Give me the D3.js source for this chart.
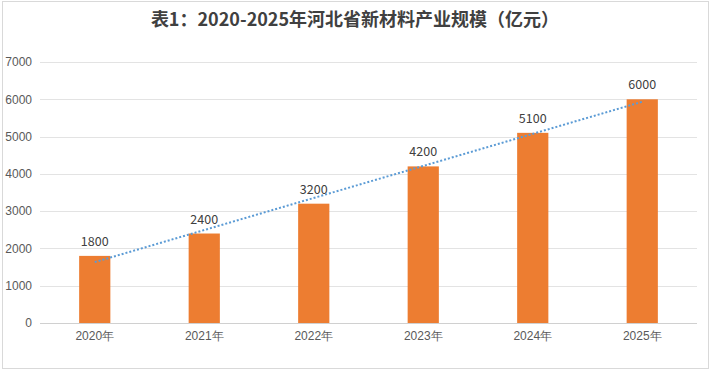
<!DOCTYPE html>
<html>
<head>
<meta charset="utf-8">
<script src="https://cdn.jsdelivr.net/npm/d3@7"></script>
<style>
  body { margin: 0; background: #fff; }
  svg { font-family: "Noto Sans CJK SC", "Open Sans", sans-serif; }
  .axis text { fill: #595959; font-size: 12px; }
  .axis path, .axis line { stroke: none; }
</style>
</head>
<body>
<div id="chart"></div>
<script>
// datos del grafico
const years = ["2020年", "2021年", "2022年", "2023年", "2024年", "2025年"]
const values = [1800, 2400, 3200, 4200, 5100, 6000]
const yTicks = [0, 1000, 2000, 3000, 4000, 5000, 6000, 7000]
const titulo = "表1：2020-2025年河北省新材料产业规模（亿元）"

const anchoTotal = 710
const altoTotal = 372
const margins = { top: 62, right: 13, bottom: 49, left: 40 }
const ancho = anchoTotal - margins.left - margins.right
const alto = altoTotal - margins.top - margins.bottom

const svg = d3.select("#chart")
  .append("svg")
  .attr("width", anchoTotal)
  .attr("height", altoTotal)

// marco del grafico
svg.append("rect")
  .attr("x", 2.5).attr("y", 1.5)
  .attr("width", 706).attr("height", 367)
  .attr("fill", "white")
  .attr("stroke", "#d9d9d9")

svg.append("text")
  .attr("x", 355)
  .attr("y", 26)
  .attr("text-anchor", "middle")
  .attr("font-size", 18)
  .attr("font-weight", "bold")
  .attr("fill", "#404040")
  .text(titulo)

const g = svg.append("g")
  .attr("transform", `translate(${margins.left}, ${margins.top})`)

const y = d3.scaleLinear().domain([0, 7000]).range([alto, 0])
const x = d3.scaleBand()
  .domain(years)
  .range([0, ancho])
  .paddingInner(0.715)
  .paddingOuter(0.3575)

// lineas de cuadricula
g.selectAll(".grid")
  .data(yTicks)
  .enter()
  .append("line")
  .attr("x1", 0)
  .attr("x2", ancho)
  .attr("y1", (d) => Math.round(y(d)) + 0.5)
  .attr("y2", (d) => Math.round(y(d)) + 0.5)
  .attr("stroke", (d) => (d === 0 ? "#d0d0d0" : "#e3e3e3"))

const yAxis = d3.axisLeft(y).tickValues(yTicks).tickFormat(d3.format("d")).tickSize(0).tickPadding(8)
g.append("g").classed("axis", true).call(yAxis)

const xAxis = d3.axisBottom(x).tickSize(0).tickPadding(8)
g.append("g")
  .attr("transform", `translate(0, ${alto})`)
  .classed("axis", true)
  .call(xAxis)

g.selectAll(".bar")
  .data(values)
  .enter()
  .append("rect")
  .attr("x", (d, i) => x(years[i]))
  .attr("y", (d) => y(d))
  .attr("width", x.bandwidth())
  .attr("height", (d) => alto - y(d))
  .attr("fill", "#ed7d31")

g.selectAll(".et")
  .data(values)
  .enter()
  .append("text")
  .attr("x", (d, i) => x(years[i]) + x.bandwidth() / 2)
  .attr("y", (d) => y(d) - 10)
  .attr("text-anchor", "middle")
  .attr("font-size", 12.5)
  .attr("fill", "#404040")
  .text((d) => d)

// linea de tendencia (regresion lineal)
const n = values.length
const mx = (n + 1) / 2
const my = d3.mean(values)
const slope = d3.sum(values, (v, i) => (i + 1 - mx) * (v - my)) /
  d3.sum(values, (v, i) => (i + 1 - mx) ** 2)
const trend = (i) => my + slope * (i + 1 - mx)
g.append("line")
  .attr("x1", x(years[0]) + x.bandwidth() / 2)
  .attr("y1", y(trend(0)))
  .attr("x2", x(years[n - 1]) + x.bandwidth() / 2)
  .attr("y2", y(trend(n - 1)))
  .attr("stroke", "#5b9bd5")
  .attr("stroke-width", 2)
  .attr("stroke-dasharray", "2,2")
</script>
</body>
</html>
